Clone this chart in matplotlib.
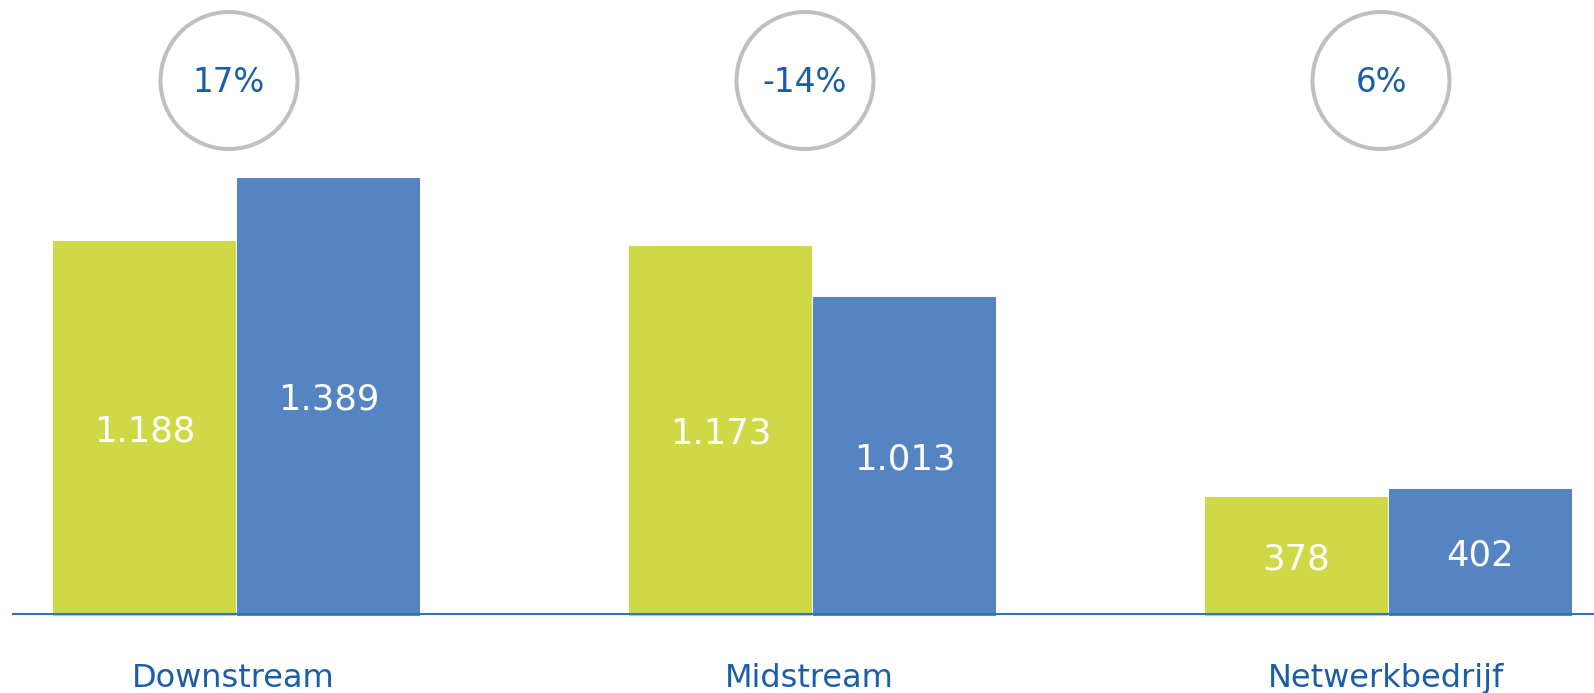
import numpy as np
import matplotlib
matplotlib.use('Agg')
import matplotlib.pyplot as plt

# data
categories = ['Downstream', 'Midstream', 'Netwerkbedrijf']
values_prev = [1188, 1173, 378]
values_curr = [1389, 1013, 402]
changes = ['17%', '-14%', '6%']

GREEN = '#CFD945'
BLUE = '#5484C1'
TEXT_BLUE = '#1B5EA8'
RING = '#C0C0C0'
AXIS = '#2E75B6'

W, H = 1594, 693
GROUP_PX = 576.0       # distance between group centres
FIRST_PX = 236.5       # centre of first group
BASE_PX = 616.0        # bar baseline, from top
UNITS_PER_PX = 1389 / 438.0


def px_to_y(p):
    return (BASE_PX - p) * UNITS_PER_PX


fig = plt.figure(figsize=(W / 100, H / 100), dpi=100)
ax = fig.add_axes([0, 0, 1, 1])
ax.set_xlim(-FIRST_PX / GROUP_PX, (W - FIRST_PX) / GROUP_PX)
ax.set_ylim(px_to_y(H), px_to_y(0))
ax.axis('off')

x = np.arange(len(categories))
bw = 183 / GROUP_PX
gap = 1 / GROUP_PX
b1 = ax.bar(x - (bw + gap) / 2, values_prev, bw, color=GREEN, zorder=2)
b2 = ax.bar(x + (bw + gap) / 2, values_curr, bw, color=BLUE, zorder=2)

# baseline drawn over the bars, slightly above their bottom
ax.axhline(2 * UNITS_PER_PX, xmin=13 / W, xmax=1, color=AXIS, lw=1.5, zorder=3)

val_fs = 25.5
for bars in (b1, b2):
    for rect in bars:
        v = rect.get_height()
        ax.annotate(f'{v:,}'.replace(',', '.'),
                    (rect.get_x() + rect.get_width() / 2, v / 2),
                    xytext=(0, -0.364 * val_fs), textcoords='offset points',
                    ha='center', va='baseline', color='white',
                    fontsize=val_fs, zorder=4)

# rings with percentage change
ring_y = px_to_y(80.5)
ring_x = x - 0.013
ax.scatter(ring_x, [ring_y] * len(x), s=(137 * 0.72) ** 2,
           facecolors='none', edgecolors=RING, linewidths=2.9, zorder=2)
pct_fs = 23.5
for xi, lab in zip(ring_x, changes):
    ax.annotate(lab, (xi, ring_y), xytext=(0, -0.364 * pct_fs),
                textcoords='offset points', ha='center', va='baseline',
                color=TEXT_BLUE, fontsize=pct_fs)

cat_fs = 23
for xi, lab in zip(x, categories):
    ax.annotate(lab, (xi - 0.005, px_to_y(675)), xytext=(0, -0.364 * cat_fs),
                textcoords='offset points', ha='center', va='baseline',
                color=TEXT_BLUE, fontsize=cat_fs)

fig.savefig('out.png', dpi=100)
